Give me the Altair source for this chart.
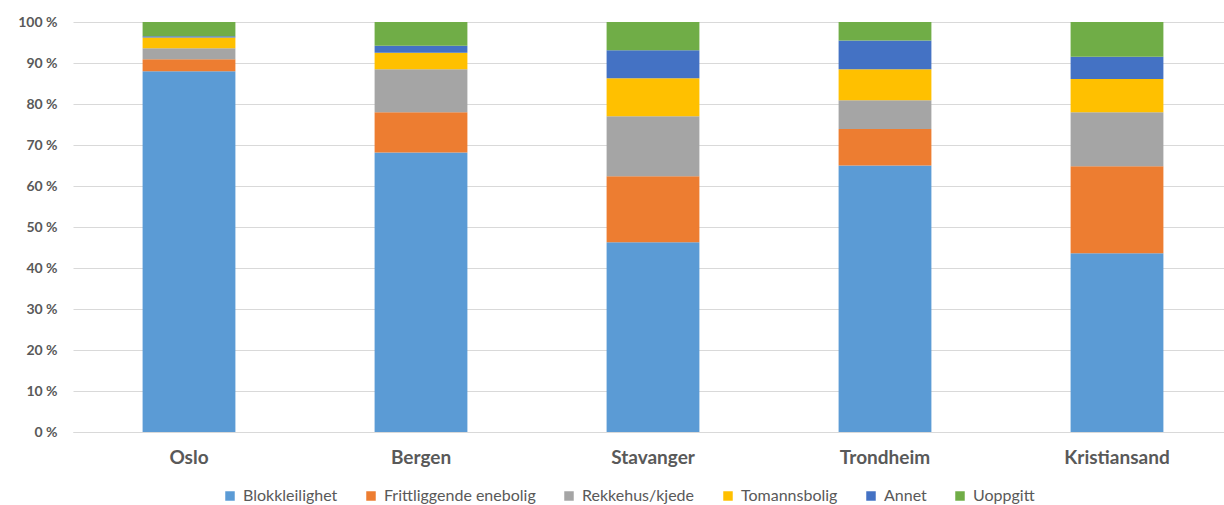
import altair as alt
import pandas as pd

cities = ["Oslo", "Bergen", "Stavanger", "Trondheim", "Kristiansand"]
types = ["Blokkleilighet", "Frittliggende enebolig", "Rekkehus/kjede", "Tomannsbolig", "Annet", "Uoppgitt"]
colors = ["#5B9BD5", "#ED7D31", "#A5A5A5", "#FFC000", "#4472C4", "#70AD47"]

blokk = [88.0, 68.2, 46.3, 65.0, 43.6]
fritt = [2.9, 9.8, 16.1, 8.9, 21.2]
rekke = [2.7, 10.5, 14.6, 7.0, 13.2]
toman = [2.6, 4.0, 9.3, 7.6, 8.1]
annet = [0.3, 1.7, 6.8, 7.0, 5.4]
uopp = [3.5, 5.8, 6.9, 4.5, 8.5]

series = [blokk, fritt, rekke, toman, annet, uopp]
rows = []
for ti, (t, vals) in enumerate(zip(types, series)):
    for c, v in zip(cities, vals):
        rows.append({"city": c, "type": t, "value": v, "ord": ti})
df = pd.DataFrame(rows)

font = "Lato"

chart = alt.Chart(df).mark_bar().encode(
    x=alt.X("city:N", sort=cities, title=None,
            scale=alt.Scale(paddingInner=0.6, paddingOuter=0.3, range=[0, 1160]),
            axis=alt.Axis(labelAngle=0, labelFontSize=19, labelFontWeight="bold",
                          labelColor="#595959", labelFont=font, ticks=False,
                          domainColor="#D9D9D9", labelPadding=16)),
    y=alt.Y("value:Q", stack="zero", title=None,
            scale=alt.Scale(domain=[0, 100], nice=False),
            axis=alt.Axis(values=list(range(0, 101, 10)), labelExpr="datum.value + ' %'",
                          labelFontSize=14, labelFontWeight="bold", labelColor="#595959",
                          labelFont=font, ticks=False, domain=False, gridColor="#D9D9D9",
                          labelPadding=16)),
    color=alt.Color("type:N", sort=types, scale=alt.Scale(domain=types, range=colors),
                    legend=alt.Legend(title=None, orient="none", direction="horizontal",
                                      legendX=149, legendY=466, symbolType="square",
                                      symbolSize=90, symbolStrokeWidth=0,
                                      labelFontSize=16, labelFont=font, labelColor="#595959",
                                      columnPadding=25, labelOffset=5)),
    order=alt.Order("ord:Q", sort="ascending"),
).properties(
    width=1149, height=410,
    autosize=alt.AutoSizeParams(type="none"),
    padding={"left": 73, "top": 22, "right": 2, "bottom": 73},
).configure_view(stroke=None)

chart.save("out.html", embed_options={"renderer": "svg", "actions": False})
